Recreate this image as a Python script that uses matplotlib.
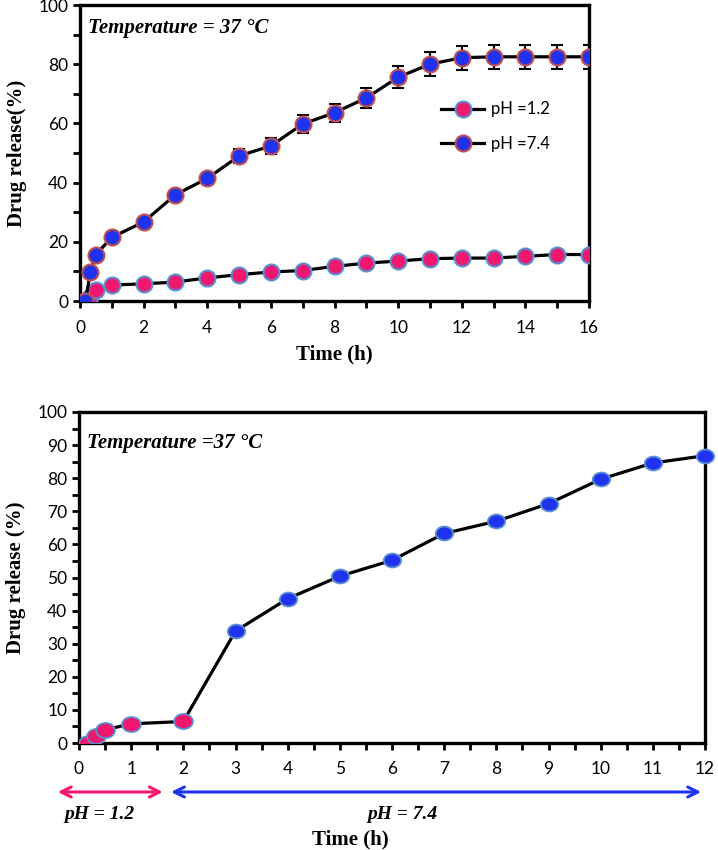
import matplotlib
matplotlib.use('Agg')
import matplotlib.pyplot as plt
from matplotlib.path import Path
from matplotlib.transforms import Affine2D, blended_transform_factory
from matplotlib.ticker import MultipleLocator

# ---------------- data ----------------
time_top = [0.17, 0.33, 0.5, 1, 2, 3, 4, 5, 6, 7, 8, 9, 10, 11, 12, 13, 14, 15, 16]
release_ph12 = [0, 1.5, 3.8, 5.4, 5.8, 6.4, 7.8, 8.9, 9.8, 10.3, 11.7, 12.8,
                13.5, 14.3, 14.5, 14.5, 15.1, 15.7, 15.7]
release_ph74 = [0, 9.9, 15.7, 21.5, 26.7, 35.9, 41.4, 49.0, 52.4, 59.8, 63.6,
                68.6, 75.6, 80.0, 82.2, 82.5, 82.5, 82.5, 82.5]
error_ph74 = [0, 0, 0, 0.5, 0.5, 0.8, 0.8, 2.3, 2.6, 3.0, 3.0, 3.4, 3.7, 4.0,
              4.0, 4.0, 4.0, 4.0, 4.0]
series_labels = ['pH =1.2', 'pH =7.4']

time_bottom = [0.17, 0.33, 0.5, 1, 2, 3, 4, 5, 6, 7, 8, 9, 10, 11, 12]
release_bottom = [0, 2, 4, 5.8, 6.5, 33.8, 43.6, 50.4, 55.2, 63.3, 67.0, 72.3,
                  79.7, 84.6, 86.8]
n_acid_points = 5  # first points measured at pH 1.2

PINK = '#F0176E'
BLUE = '#1F33EE'
EDGE_RED = '#C0504D'
EDGE_BLUE = '#5B8FD0'

TICK_FONT = 'Lato'
SERIF = 'Liberation Serif'

fig = plt.figure(figsize=(7.18, 8.5), dpi=100)

# ---------------- top panel ----------------
ax1 = fig.add_axes([80/718, 1-301/850, 509/718, 296/850])
ax1.plot(time_top, release_ph12, '-', color='black', lw=2.3, marker='o', ms=11.5,
         mfc=PINK, mec=EDGE_BLUE, mew=1.5, label=series_labels[0], zorder=3)
ax1.errorbar(time_top, release_ph74, yerr=error_ph74, fmt='none', ecolor='black',
             elinewidth=1.5, capsize=4, capthick=1.5, zorder=4)
ax1.plot(time_top, release_ph74, '-', color='black', lw=2.3, marker='o', ms=11.5,
         mfc=BLUE, mec=EDGE_RED, mew=1.5, label=series_labels[1], zorder=5)
ax1.set_xlim(0, 16)
ax1.set_ylim(0, 100)
ax1.xaxis.set_major_locator(MultipleLocator(2))
ax1.xaxis.set_minor_locator(MultipleLocator(1))
ax1.yaxis.set_major_locator(MultipleLocator(20))
ax1.yaxis.set_minor_locator(MultipleLocator(10))
for sp in ax1.spines.values():
    sp.set_linewidth(2.4)
ax1.tick_params(axis='both', which='both', direction='out', width=2, length=5,
                labelsize=12.5)
ax1.tick_params(axis='x', pad=9)
for lab in ax1.get_xticklabels() + ax1.get_yticklabels():
    lab.set_fontfamily(TICK_FONT)
ax1.set_xlabel('Time (h)', fontsize=15, fontweight='bold', family=SERIF, labelpad=6)
ax1.set_ylabel('Drug release(%)', fontsize=15, fontweight='bold', family=SERIF, labelpad=8)
ax1.text(0.016, 0.955, 'Temperature = 37 °C', transform=ax1.transAxes, fontsize=15,
         fontweight='bold', fontstyle='italic', family=SERIF, va='top', ha='left')
leg = ax1.legend(loc='upper left', bbox_to_anchor=(0.68, 0.725), frameon=False,
                 handlelength=2.6, labelspacing=1.1, handletextpad=0.4,
                 prop={'family': TICK_FONT, 'size': 12})

# ---------------- bottom panel ----------------
ellipse = Path.unit_circle().transformed(Affine2D().scale(1.0, 0.8))
ax2 = fig.add_axes([79/718, 1-743/850, 626/718, 331/850])
ax2.plot(time_bottom, release_bottom, '-', color='black', lw=2.3, zorder=2)
ax2.plot(time_bottom[:n_acid_points], release_bottom[:n_acid_points], ls='none',
         marker=ellipse, ms=13.5, mfc=PINK, mec=EDGE_BLUE, mew=1.3, zorder=3)
ax2.plot(time_bottom[n_acid_points:], release_bottom[n_acid_points:], ls='none',
         marker=ellipse, ms=12.5, mfc=BLUE, mec=EDGE_BLUE, mew=1.3, zorder=3,
         clip_on=False)
ax2.set_xlim(0, 12)
ax2.set_ylim(0, 100)
ax2.xaxis.set_major_locator(MultipleLocator(1))
ax2.xaxis.set_minor_locator(MultipleLocator(0.5))
ax2.yaxis.set_major_locator(MultipleLocator(10))
ax2.yaxis.set_minor_locator(MultipleLocator(5))
for sp in ax2.spines.values():
    sp.set_linewidth(2.4)
ax2.tick_params(axis='both', which='both', direction='out', width=2, length=5,
                labelsize=12.5)
ax2.tick_params(axis='x', pad=8)
for lab in ax2.get_xticklabels() + ax2.get_yticklabels():
    lab.set_fontfamily(TICK_FONT)
ax2.set_ylabel('Drug release (%)', fontsize=15, fontweight='bold', family=SERIF, labelpad=8)
ax2.text(0.012, 0.905, 'Temperature =37 °C', transform=ax2.transAxes, fontsize=15,
         fontweight='bold', fontstyle='italic', family=SERIF, va='center', ha='left')

trans = blended_transform_factory(ax2.transData, ax2.transAxes)
ax2.annotate('', xy=(-0.46, -0.148), xytext=(1.66, -0.148), xycoords=trans,
             textcoords=trans, annotation_clip=False,
             arrowprops=dict(arrowstyle='<->', color=PINK, lw=2.2, mutation_scale=18))
ax2.annotate('', xy=(1.71, -0.148), xytext=(11.98, -0.148), xycoords=trans,
             textcoords=trans, annotation_clip=False,
             arrowprops=dict(arrowstyle='<->', color=BLUE, lw=2.2, mutation_scale=18))
ax2.text(0.4, -0.215, 'pH = 1.2', transform=trans, fontsize=14, fontweight='bold',
         fontstyle='italic', family=SERIF, ha='center', va='center')
ax2.text(6.2, -0.215, 'pH = 7.4', transform=trans, fontsize=14, fontweight='bold',
         fontstyle='italic', family=SERIF, ha='center', va='center')
ax2.text(5.2, -0.29, 'Time (h)', transform=trans, fontsize=15, fontweight='bold',
         family=SERIF, ha='center', va='center')

fig.savefig('out.png', dpi=100)
